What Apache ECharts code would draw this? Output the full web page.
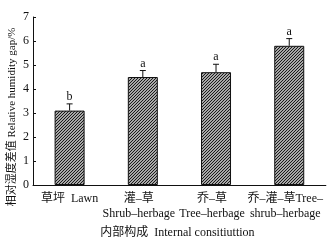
<!DOCTYPE html>
<html>
<head>
<meta charset="utf-8">
<script src="https://cdn.jsdelivr.net/npm/echarts@6/dist/echarts.min.js"></script>
<style>
  html, body { margin: 0; padding: 0; background: #fff; }
  #chart { width: 334px; height: 246px; }
</style>
</head>
<body>
<div id="chart"></div>
<script>
const categories = ['草坪  Lawn', '灌–草\nShrub–herbage', '乔–草\nTree–herbage', '乔–灌–草Tree–\nshrub–herbage'];
const means = [3.1, 4.5, 4.7, 5.8];
const errors = [0.28, 0.27, 0.33, 0.3];
const letters = ['b', 'a', 'a', 'a'];

// hatch fill: dense dark diagonal lines on grey
const pat = document.createElement('canvas');
pat.width = 3; pat.height = 3;
const ctx = pat.getContext('2d');
ctx.fillStyle = '#a8a8a8';
ctx.fillRect(0, 0, 3, 3);
ctx.strokeStyle = '#1a1a1a';
ctx.lineWidth = 1;
ctx.beginPath();
ctx.moveTo(0, 3); ctx.lineTo(3, 0);
ctx.moveTo(-1.5, 1.5); ctx.lineTo(1.5, -1.5);
ctx.moveTo(1.5, 4.5); ctx.lineTo(4.5, 1.5);
ctx.stroke();

const font = '"Liberation Serif", "Noto Sans CJK SC", serif';
const chart = echarts.init(document.getElementById('chart'));

chart.setOption({
  animation: false,
  grid: { left: 33, right: 8, top: 17, bottom: 61 },
  graphic: [{
    type: 'text',
    x: 12, y: 117,
    rotation: Math.PI / 2,
    style: {
      text: '相对湿度差值 Relative humidity gap/%',
      font: '11px ' + font,
      fill: '#111',
      textAlign: 'center',
      textVerticalAlign: 'middle'
    }
  }],
  xAxis: {
    type: 'category',
    data: categories.map((c, i) => ({
      value: c,
      textStyle: { padding: i === 0 ? [0, 0, 0, 0] : [0, 8, 0, 0] }
    })),
    name: '内部构成  Internal consitiuttion',
    nameLocation: 'middle',
    nameGap: 42,
    nameTextStyle: { fontFamily: font, fontSize: 12, color: '#111', padding: [0, 4, 0, 0] },
    axisLine: { lineStyle: { color: '#111', width: 1 } },
    axisTick: { inside: true, length: 3, lineStyle: { color: '#111' } },
    axisLabel: { fontFamily: font, fontSize: 12, color: '#111', margin: 6, lineHeight: 15, interval: 0 }
  },
  yAxis: {
    type: 'value',
    min: 0,
    max: 7,
    interval: 1,
    axisLine: { show: true, lineStyle: { color: '#111', width: 1 } },
    axisTick: { show: true, inside: true, length: 3, lineStyle: { color: '#111' } },
    axisLabel: { fontFamily: font, fontSize: 12, color: '#111', margin: 4 },
    splitLine: { show: false }
  },
  series: [
    {
      type: 'bar',
      data: means,
      barWidth: 30,
      itemStyle: {
        color: { image: pat, repeat: 'repeat' },
        borderColor: '#111',
        borderWidth: 1
      }
    },
    {
      type: 'custom',
      data: means.map((m, i) => [i, m, m + errors[i]]),
      renderItem: function (params, api) {
        const x = api.coord([api.value(0), api.value(1)])[0];
        const y0 = api.coord([api.value(0), api.value(1)])[1];
        const y1 = api.coord([api.value(0), api.value(2)])[1];
        const st = { stroke: '#111', lineWidth: 1 };
        return {
          type: 'group',
          children: [
            { type: 'line', shape: { x1: x, y1: y0, x2: x, y2: y1 }, style: st },
            { type: 'line', shape: { x1: x - 3, y1: y1, x2: x + 3, y2: y1 }, style: st },
            {
              type: 'text',
              style: {
                x: x, y: y1 - 1,
                text: letters[params.dataIndex],
                textAlign: 'center', textVerticalAlign: 'bottom',
                font: '12px ' + font, fill: '#111'
              }
            }
          ]
        };
      }
    }
  ]
});
</script>
</body>
</html>
